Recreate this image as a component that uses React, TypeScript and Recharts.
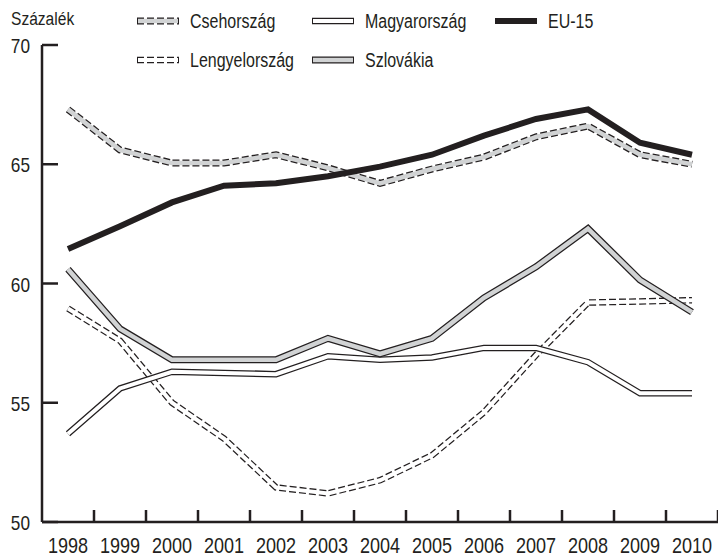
import { ComposedChart, Line, XAxis, YAxis } from 'recharts';

// Years on the x axis
const YEARS = ['1998', '1999', '2000', '2001', '2002', '2003', '2004', '2005', '2006', '2007', '2008', '2009', '2010'];

// Percent values per country
const CSEH = [67.3, 65.6, 65.05, 65.05, 65.4, 64.85, 64.2, 64.8, 65.3, 66.15, 66.6, 65.4, 65.0];
const MAGYAR = [53.7, 55.6, 56.3, 56.25, 56.2, 56.95, 56.8, 56.9, 57.3, 57.3, 56.7, 55.4, 55.4];
const EU15 = [61.45, 62.4, 63.4, 64.1, 64.2, 64.5, 64.9, 65.4, 66.2, 66.9, 67.3, 65.9, 65.4];
const LENGYEL = [58.95, 57.6, 55.0, 53.5, 51.45, 51.2, 51.75, 52.8, 54.6, 57.0, 59.2, 59.25, 59.3];
const SZLOVAK = [60.6, 58.1, 56.8, 56.8, 56.8, 57.7, 57.05, 57.7, 59.4, 60.7, 62.3, 60.15, 58.8];

const Y_TICKS = [50, 55, 60, 65, 70];

// no narrow font installed, so Liberation Sans gets squeezed horizontally
const FONT = '"Liberation Sans", Arial, sans-serif';
const SQUEEZE = 0.82;
const INK = '#231f20';
const GRAY = '#d1d3d4';

const data = YEARS.map((year, i) => ({
  year,
  cseh: CSEH[i],
  magyar: MAGYAR[i],
  eu: EU15[i],
  lengyel: LENGYEL[i],
  szlovak: SZLOVAK[i],
}));

// outer = dark outline stroke, inner = fill stroke drawn on top
const SERIES = [
  { key: 'lengyel', name: 'Lengyelország', outer: 6.5, inner: 4, fill: '#ffffff', dash: '7 3' },
  { key: 'magyar', name: 'Magyarország', outer: 6.5, inner: 4, fill: '#ffffff', dash: undefined },
  { key: 'szlovak', name: 'Szlovákia', outer: 7, inner: 4.5, fill: GRAY, dash: undefined },
  { key: 'cseh', name: 'Csehország', outer: 7, inner: 4.5, fill: GRAY, dash: '7 3' },
  { key: 'eu', name: 'EU-15', outer: 6, inner: 0, fill: INK, dash: undefined },
];

const LEGEND_POS: Record<string, { x: number; y: number }> = {
  cseh: { x: 137, y: 21 },
  magyar: { x: 312, y: 21 },
  eu: { x: 495, y: 21 },
  lengyel: { x: 137, y: 60 },
  szlovak: { x: 312, y: 60 },
};

const BAND = 52;

function Label({ x, y, size, anchor, children }: any) {
  return (
    <text
      transform={`translate(${x},${y}) scale(${SQUEEZE},1)`}
      textAnchor={anchor}
      fontSize={size}
      fontFamily={FONT}
      fill={INK}
    >
      {children}
    </text>
  );
}

function YTick(props: any) {
  const { x, y, payload } = props;
  return (
    <g>
      <line x1={x} x2={x + 16} y1={y} y2={y} stroke={INK} strokeWidth={2.5} />
      <Label x={x - 12} y={y + 8} size={21} anchor="end">
        {payload.value}
      </Label>
    </g>
  );
}

function XTick(props: any) {
  const { x, y, payload } = props;
  return (
    <g>
      <line x1={x + BAND / 2} x2={x + BAND / 2} y1={y} y2={y - 12} stroke={INK} strokeWidth={2.5} />
      <Label x={x} y={y + 31} size={22} anchor="middle">
        {payload.value}
      </Label>
    </g>
  );
}

function Legend() {
  return (
    <svg width={718} height={80} style={{ position: 'absolute', left: 0, top: 0, pointerEvents: 'none' }}>
      <Label x={11} y={25} size={19} anchor="start">
        Százalék
      </Label>
      {SERIES.map((s) => {
        const p = LEGEND_POS[s.key];
        return (
          <g key={s.key}>
            <line x1={p.x} x2={p.x + 42} y1={p.y} y2={p.y} stroke={INK} strokeWidth={s.outer} strokeDasharray={s.dash} />
            {s.inner > 0 && (
              <line x1={p.x + 1} x2={p.x + 41} y1={p.y} y2={p.y} stroke={s.fill} strokeWidth={s.inner} />
            )}
            <Label x={p.x + 53} y={p.y + 7} size={19.5} anchor="start">
              {s.name}
            </Label>
          </g>
        );
      })}
    </svg>
  );
}

export default function App() {
  return (
    <div style={{ position: 'relative', width: 718, height: 558, background: '#fff' }}>
      <style>{'body{margin:0}'}</style>
      <ComposedChart width={718} height={558} data={data} margin={{ top: 45, right: 0, bottom: 0, left: 0 }}>
        <XAxis
          dataKey="year"
          interval={0}
          height={36}
          padding={{ left: BAND / 2, right: BAND / 2 }}
          tickSize={0}
          tickMargin={0}
          tick={<XTick />}
          axisLine={{ stroke: INK, strokeWidth: 2.5 }}
        />
        <YAxis
          domain={[50, 70]}
          ticks={Y_TICKS}
          width={42}
          tickSize={0}
          tickMargin={0}
          tick={<YTick />}
          axisLine={{ stroke: INK, strokeWidth: 2.5 }}
        />
        {SERIES.flatMap((s) => {
          const lines = [
            <Line
              key={s.key + '-outer'}
              dataKey={s.key}
              type="linear"
              stroke={INK}
              strokeWidth={s.outer}
              strokeDasharray={s.dash}
              dot={false}
              activeDot={false}
              isAnimationActive={false}
            />,
          ];
          if (s.inner > 0) {
            lines.push(
              <Line
                key={s.key + '-inner'}
                dataKey={s.key}
                type="linear"
                stroke={s.fill}
                strokeWidth={s.inner}
                dot={false}
                activeDot={false}
                isAnimationActive={false}
              />
            );
          }
          return lines;
        })}
      </ComposedChart>
      <Legend />
    </div>
  );
}
